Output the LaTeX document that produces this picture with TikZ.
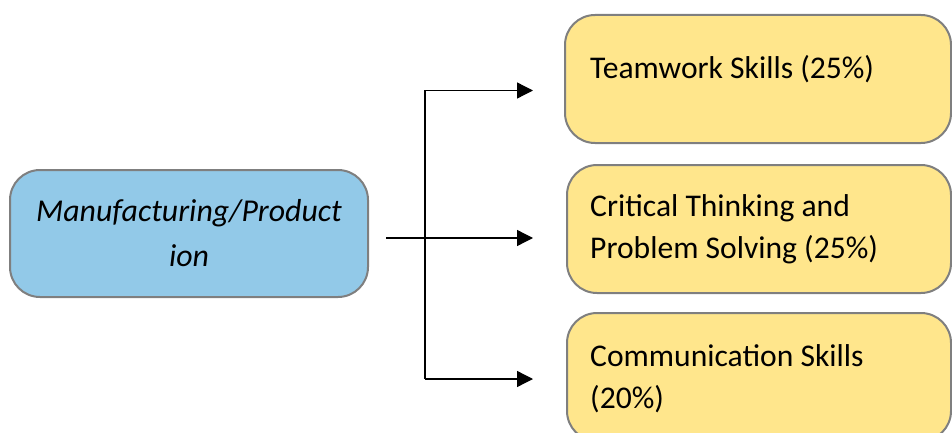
\documentclass[tikz,border=0pt]{standalone}
\usepackage{fontspec}
\setmainfont{Carlito}
\usetikzlibrary{arrows.meta}
\definecolor{boxblue}{HTML}{92C9E8}
\definecolor{boxyellow}{HTML}{FFE68C}
\definecolor{boxline}{HTML}{7F7F7F}
\tikzset{
  box/.style={draw=boxline, line width=2pt, rounded corners=30pt, inner sep=0pt},
  txt/.style={inner sep=0pt, font=\fontsize{31.6}{43}\selectfont},
  conn/.style={line width=1.3pt, -{Triangle[length=16pt,width=16pt]}},
}
\begin{document}
\begin{tikzpicture}[x=1pt,y=1pt]
\useasboundingbox (0,0) rectangle (952,432);
\clip (0,0) rectangle (952,432);
% boxes
\node[box, fill=boxblue, minimum width=358pt, minimum height=127pt] (src) at (189,198.5) {};
\node[box, fill=boxyellow, minimum width=386pt, minimum height=128pt] (b1) at (758,353) {};
\node[box, fill=boxyellow, minimum width=384pt, minimum height=128pt] (b2) at (759,203) {};
\node[box, fill=boxyellow, minimum width=384pt, minimum height=128pt] (b3) at (759,55) {};
% texts
\node[txt, align=center, font=\fontsize{31.8}{45}\selectfont\itshape] (srct) at (src.center) {Manufacturing/Product\\ion};
\node[txt, anchor=base west] (t1) at (590,353) {Teamwork Skills (25\%)};
\node[txt, anchor=base west] (t2) at (590,215.3) {Critical Thinking and};
\node[txt, anchor=base west] (t2b) at (590,174) {Problem Solving (25\%)};
\node[txt, anchor=base west] (t3) at (590,66) {Communication Skills};
\node[txt, anchor=base west] (t3b) at (590,24) {(20\%)};
% connectors
\coordinate (start) at (386,194);
\coordinate (jn) at (425,194);
\coordinate (a1) at (533,341.5);
\coordinate (a2) at (533,194);
\coordinate (a3) at (533,53);
\draw[conn] (start) -- (a2);
\draw[conn] (jn |- a1) -- (a1);
\draw[line width=1.3pt] (jn |- a1) -- (jn |- a3);
\draw[conn] (jn |- a3) -- (a3);
\end{tikzpicture}
\end{document}
